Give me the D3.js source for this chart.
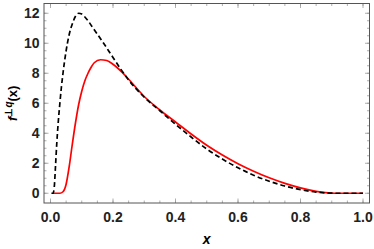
<!DOCTYPE html>
<html>
<head>
<meta charset="utf-8">
<script src="https://cdn.jsdelivr.net/npm/d3@7"></script>
<style>
  body { margin: 0; background: #fff; }
  svg { display: block; }
  .tick-label { font-family: "Liberation Sans", Arial, sans-serif; font-weight: bold; font-size: 14px; fill: #222; }
</style>
</head>
<body>
<div id="chart"></div>
<script>
// Chart dimensions and frame position.
const width = 374;
const height = 249;
const frame = { left: 44, right: 369.5, top: 3.5, bottom: 203 };

// Dashed black curve
const dashedX = [0.003, 0.008, 0.012, 0.016, 0.02, 0.025, 0.03, 0.035, 0.04, 0.05, 0.06, 0.07, 0.08, 0.09, 0.10, 0.11, 0.12, 0.14, 0.17, 0.20, 0.25, 0.30, 0.35, 0.40, 0.45, 0.50, 0.55, 0.60, 0.65, 0.70, 0.75, 0.80, 0.85, 0.88, 0.92, 0.96, 1.0];
const dashedY = [0, 0, 0.4, 1.8, 3.3, 4.8, 6.0, 7.1, 8.0, 9.5, 10.6, 11.3, 11.8, 12.0, 11.95, 11.75, 11.5, 10.9, 10.0, 9.05, 7.55, 6.4, 5.5, 4.6, 3.75, 2.95, 2.28, 1.7, 1.2, 0.8, 0.48, 0.24, 0.08, 0.02, 0, 0, 0];

// Red solid curve
const solidX = [0.008, 0.02, 0.03, 0.04, 0.05, 0.06, 0.07, 0.08, 0.09, 0.10, 0.11, 0.12, 0.13, 0.14, 0.16, 0.18, 0.20, 0.22, 0.25, 0.30, 0.35, 0.40, 0.45, 0.50, 0.55, 0.60, 0.65, 0.70, 0.75, 0.80, 0.85, 0.88, 0.91, 0.95, 1.0];
const solidY = [0, 0, 0, 0.1, 0.6, 1.8, 3.3, 4.7, 5.9, 6.8, 7.5, 8.0, 8.4, 8.7, 8.9, 8.85, 8.6, 8.25, 7.6, 6.45, 5.55, 4.75, 3.95, 3.2, 2.55, 1.97, 1.47, 1.03, 0.66, 0.36, 0.13, 0.04, 0, 0, 0];

// Tick values
const xMajor = [0, 0.2, 0.4, 0.6, 0.8, 1.0];
const xMinor = d3.range(0, 1.0001, 0.05);
const yMajor = [0, 2, 4, 6, 8, 10, 12];
const yMinor = d3.range(0, 12.001, 0.5);

const x = d3.scaleLinear().domain([-0.0208, 1.0208]).range([frame.left, frame.right]);
const y = d3.scaleLinear().domain([-0.65, 12.65]).range([frame.bottom, frame.top]);

const svg = d3.select("#chart").append("svg")
    .attr("width", width)
    .attr("height", height);

// Inward ticks on all four sides
const tickColor = "#9a9a9a";
function ticksX(vals, len) {
    vals.forEach(v => {
        svg.append("line").attr("x1", x(v)).attr("x2", x(v))
            .attr("y1", frame.bottom).attr("y2", frame.bottom - len)
            .attr("stroke", tickColor).attr("stroke-width", 0.8);
        svg.append("line").attr("x1", x(v)).attr("x2", x(v))
            .attr("y1", frame.top).attr("y2", frame.top + len)
            .attr("stroke", tickColor).attr("stroke-width", 0.8);
    });
}
function ticksY(vals, len) {
    vals.forEach(v => {
        svg.append("line").attr("y1", y(v)).attr("y2", y(v))
            .attr("x1", frame.left).attr("x2", frame.left + len)
            .attr("stroke", tickColor).attr("stroke-width", 0.8);
        svg.append("line").attr("y1", y(v)).attr("y2", y(v))
            .attr("x1", frame.right).attr("x2", frame.right - len)
            .attr("stroke", tickColor).attr("stroke-width", 0.8);
    });
}
ticksX(xMinor, 2.5);
ticksX(xMajor, 4.5);
ticksY(yMinor, 2.5);
ticksY(yMajor, 4.5);

// Curves
const line = d3.line().x(d => x(d[0])).y(d => y(d[1])).curve(d3.curveMonotoneX);

svg.append("path")
    .datum(d3.zip(solidX, solidY))
    .attr("d", line)
    .attr("fill", "none")
    .attr("stroke", "#ff0000")
    .attr("stroke-width", 1.7);

svg.append("path")
    .datum(d3.zip(dashedX, dashedY))
    .attr("d", line)
    .attr("fill", "none")
    .attr("stroke", "#000")
    .attr("stroke-width", 1.7)
    .attr("stroke-dasharray", "5,3");

// Frame
svg.append("rect")
    .attr("x", frame.left).attr("y", frame.top)
    .attr("width", frame.right - frame.left)
    .attr("height", frame.bottom - frame.top)
    .attr("fill", "none")
    .attr("stroke", "#555")
    .attr("stroke-width", 1);

// Tick labels
svg.selectAll(".xl").data(xMajor).enter().append("text")
    .attr("class", "tick-label")
    .attr("x", d => x(d))
    .attr("y", 222)
    .attr("text-anchor", "middle")
    .text(d => d.toFixed(1));

svg.selectAll(".yl").data(yMajor).enter().append("text")
    .attr("class", "tick-label")
    .attr("x", 39.5)
    .attr("y", d => y(d) + 5)
    .attr("text-anchor", "end")
    .text(d => d);

// Axis titles
svg.append("text")
    .attr("x", x(0.5))
    .attr("y", 244)
    .attr("text-anchor", "middle")
    .style("font-family", "Liberation Sans, Arial, sans-serif")
    .style("font-weight", "bold")
    .style("font-style", "italic")
    .style("font-size", "14px")
    .text("x");

const yt = svg.append("text")
    .attr("transform", `translate(17,${y(6)}) rotate(-90)`)
    .attr("text-anchor", "middle")
    .style("font-family", "Liberation Sans, Arial, sans-serif")
    .style("font-weight", "bold")
    .style("font-size", "13px");
yt.append("tspan").style("font-style", "italic").text("f");
yt.append("tspan").attr("dy", -5).style("font-size", "10px").text("⊥");
yt.append("tspan").style("font-size", "10px").style("font-style", "italic").text("q");
yt.append("tspan").attr("dy", 5).text("(x)");
</script>
</body>
</html>
